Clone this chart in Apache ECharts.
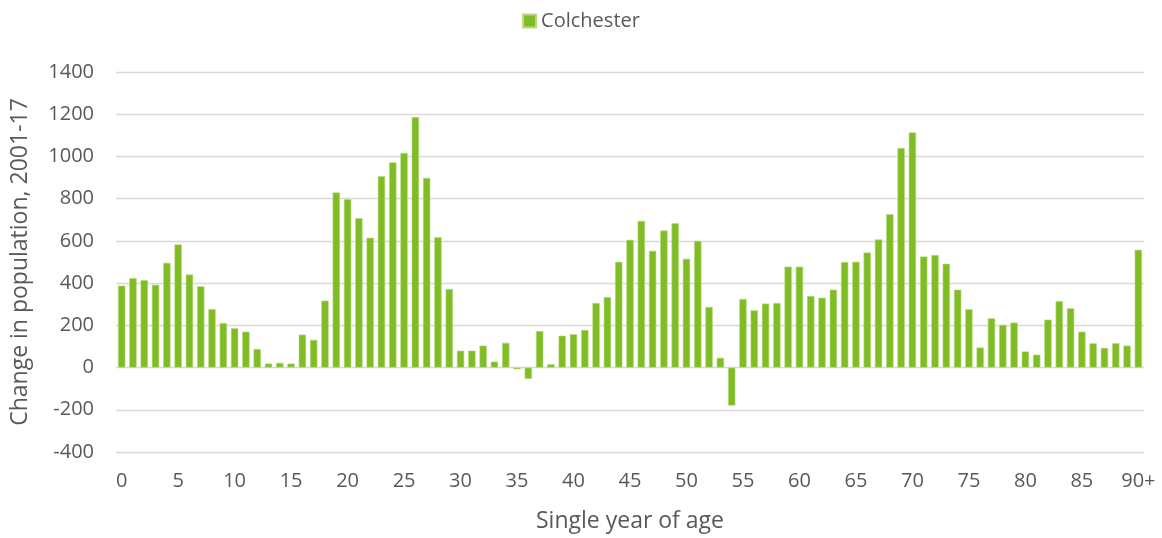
<!DOCTYPE html>
<html>
<head>
<meta charset="utf-8">
<script src="https://cdn.jsdelivr.net/npm/echarts@6/dist/echarts.min.js"></script>
<style>
  html, body { margin: 0; padding: 0; background: #fff; }
  #main { width: 1162px; height: 538px; }
</style>
</head>
<body>
<div id="main"></div>
<script>
var chart = echarts.init(document.getElementById('main'));

// ages 0..89 and 90+
var ages = [];
for (var i = 0; i < 90; i++) {
    ages.push(String(i));
}
ages.push('90+');

var seriesName = 'Colchester';
var colchester = [
    388, 424, 414, 392, 496, 583, 441, 385, 277, 211,
    186, 170, 88, 19, 22, 19, 156, 131, 317, 829,
    797, 708, 615, 906, 972, 1017, 1187, 898, 618, 372,
    80, 80, 104, 28, 117, -8, -54, 173, 16, 151,
    158, 178, 306, 334, 501, 605, 695, 553, 649, 684,
    515, 600, 287, 46, -180, 325, 271, 303, 306, 478,
    478, 339, 331, 369, 500, 501, 545, 607, 727, 1040,
    1114, 526, 533, 492, 369, 276, 95, 233, 202, 213,
    76, 61, 227, 315, 281, 170, 115, 93, 115, 104,
    558
];

var yTicks = { min: -400, max: 1400, step: 200 };

var fontName = '"Open Sans", "Noto Sans", sans-serif';
var textColor = '#595959';

chart.setOption({
    animation: false,
    textStyle: { fontFamily: fontName },
    legend: {
        data: [seriesName],
        top: 6,
        left: 'center',
        icon: 'rect',
        itemWidth: 13,
        itemHeight: 13,
        itemGap: 6,
        textStyle: { fontSize: 20, color: textColor, fontFamily: fontName }
    },
    grid: {
        left: 116,
        right: 18,
        top: 72,
        bottom: 85
    },
    xAxis: {
        type: 'category',
        data: ages,
        name: 'Single year of age',
        nameLocation: 'middle',
        nameGap: 58,
        nameTextStyle: { fontSize: 23, color: textColor },
        axisLine: { show: false, onZero: false },
        axisTick: { show: false },
        axisLabel: {
            interval: 4,
            fontSize: 20,
            color: textColor,
            margin: 19
        }
    },
    yAxis: {
        type: 'value',
        min: yTicks.min,
        max: yTicks.max,
        interval: yTicks.step,
        name: 'Change in population, 2001-17',
        nameLocation: 'middle',
        nameGap: 84,
        nameTextStyle: { fontSize: 23, color: textColor },
        axisLine: { show: false },
        axisTick: { show: false },
        axisLabel: {
            fontSize: 20,
            color: textColor,
            margin: 22,
            formatter: function (v) { return String(v); }
        },
        splitLine: { lineStyle: { color: '#d9d9d9', width: 1.3 } }
    },
    series: [{
        name: seriesName,
        type: 'bar',
        data: colchester,
        barCategoryGap: '35%',
        itemStyle: {
            color: '#80bc24',
            borderColor: '#b9da85',
            borderWidth: 0.6
        }
    }]
});
</script>
</body>
</html>
